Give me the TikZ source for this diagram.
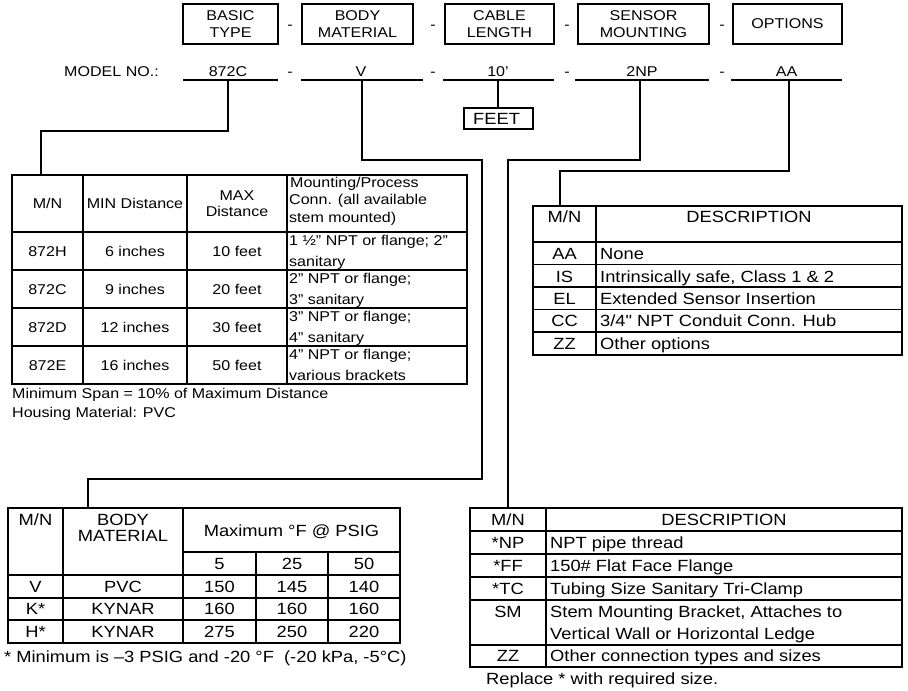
\documentclass[tikz,border=0pt]{standalone}
\usepackage{fontspec}
\setmainfont{Liberation Sans}[FakeStretch=1.13, Ligatures=TeXOff]
\usepackage{tikz}

\newcommand\smsz{\fontsize{14.2}{17}\selectfont}
\newcommand\bgsz{\fontsize{16.2}{18}\selectfont}

\begin{document}
\begin{tikzpicture}[x=1pt, y=-1pt,
        tbl/.style={line width=1.6pt},
        wire/.style={line width=1.3pt},
        hdrbox/.style={draw, line width=1.6pt, minimum height=40pt, inner sep=0pt, align=center, font=\smsz},
        sm/.style={font=\smsz, inner sep=0pt, text height=10.2pt, text depth=0pt},
        bg/.style={font=\bgsz, inner sep=0pt, text height=11.6pt, text depth=0pt}]
        \useasboundingbox (0,0) rectangle (908,691);

        % Coordinates
        \coordinate (T1) at (228,80);
        \coordinate (T2) at (362,80);
        \coordinate (T3) at (498,80);
        \coordinate (T4) at (640,80);
        \coordinate (T5) at (789,80);
        \coordinate (K1) at (41,131);
        \coordinate (K2) at (482,160);
        \coordinate (K3) at (88,479);
        \coordinate (K4) at (508,160);
        \coordinate (K5) at (560,171);
        \coordinate (E1) at (41,175);
        \coordinate (E2) at (88,508);
        \coordinate (E4) at (508,508);
        \coordinate (E5) at (560,206);

        % Header boxes
        \node[hdrbox, minimum width=95pt] (basic) at (230.5,24) {BASIC\\TYPE};
        \node[hdrbox, minimum width=111pt] (bodymat) at (357.5,24) {BODY\\MATERIAL};
        \node[hdrbox, minimum width=109pt] (cable) at (499.5,24) {CABLE\\LENGTH};
        \node[hdrbox, minimum width=131pt] (sensor) at (643.5,24) {SENSOR\\MOUNTING};
        \node[hdrbox, minimum width=109pt] (options) at (787.5,24) {OPTIONS};
        \node[sm] at (290,24) {-};
        \node[sm] at (433,24) {-};
        \node[sm] at (567,24) {-};
        \node[sm] at (722,24) {-};

        % Model number
        \node[sm] (modelno) at (111.5,71) {MODEL NO.:};
        \node[sm] (vtype) at (228,71) {872C};
        \node[sm] (vmat) at (361,71) {V};
        \node[sm] (vlen) at (498,71) {10’};
        \node[sm] (vmount) at (642,71) {2NP};
        \node[sm] (vopt) at (786.5,71) {AA};
        \node[sm] at (290,71) {-};
        \node[sm] at (433,71) {-};
        \node[sm] at (567,71) {-};
        \node[sm] at (722,71) {-};
        \draw[tbl] (183,80) -- (278,80);
        \draw[tbl] (301,80) -- (423,80);
        \draw[tbl] (443,80) -- (554,80);
        \draw[tbl] (575,80) -- (709,80);
        \draw[tbl] (731,80) -- (842,80);

        % FEET box
        \node[draw, line width=1.6pt, minimum width=69pt, minimum height=21pt, inner sep=0pt] (feet) at (498.5,118.5) {};
        \node[bg, anchor=west] at (473,118.5) {FEET};

        % Connectors
        \draw[wire] (T1) |- (K1) -- (E1);
        \draw[wire] (T2) |- (K2) |- (K3) -- (E2);
        \draw[wire] (T3) -- (T3 |- feet.north);
        \draw[wire] (T4) |- (K4) -- (E4);
        \draw[wire] (T5) |- (K5) -- (E5);

        % Basic type table
        \draw[tbl] (12,175) rectangle (467,384);
        \draw[tbl] (83,175) -- (83,384);
        \draw[tbl] (187,175) -- (187,384);
        \draw[tbl] (287,175) -- (287,384);
        \draw[tbl] (12,232) -- (467,232);
        \draw[tbl] (12,270) -- (467,270);
        \draw[tbl] (12,308) -- (467,308);
        \draw[tbl] (12,346) -- (467,346);
        \node[sm] at (47.5,203) {M/N};
        \node[sm] at (135,203) {MIN Distance};
        \node[sm] at (237,195) {MAX};
        \node[sm] at (237,211) {Distance};
        \node[sm, anchor=west] at (290,182) {Mounting/Process};
        \node[sm, anchor=west] at (289,199.5) {Conn. (all available};
        \node[sm, anchor=west] at (289,217) {stem mounted)};
        \node[sm] at (47.5,251) {872H};
        \node[sm] at (135,251) {6 inches};
        \node[sm] at (237,251) {10 feet};
        \node[sm, anchor=west] at (289,240.5) {1 ½” NPT or flange; 2”};
        \node[sm, anchor=west] at (289,261) {sanitary};
        \node[sm] at (47.5,289) {872C};
        \node[sm] at (135,289) {9 inches};
        \node[sm] at (237,289) {20 feet};
        \node[sm, anchor=west] at (289,278.5) {2” NPT or flange;};
        \node[sm, anchor=west] at (289,299) {3” sanitary};
        \node[sm] at (47.5,327) {872D};
        \node[sm] at (135,327) {12 inches};
        \node[sm] at (237,327) {30 feet};
        \node[sm, anchor=west] at (289,316.5) {3” NPT or flange;};
        \node[sm, anchor=west] at (289,337) {4” sanitary};
        \node[sm] at (47.5,365) {872E};
        \node[sm] at (135,365) {16 inches};
        \node[sm] at (237,365) {50 feet};
        \node[sm, anchor=west] at (289,354.5) {4” NPT or flange;};
        \node[sm, anchor=west] at (289,375) {various brackets};
        \node[sm, anchor=west] at (12,393) {Minimum Span = 10\% of Maximum Distance};
        \node[sm, anchor=west] at (12,412) {Housing Material: PVC};

        % Options table
        \draw[tbl] (533,206) rectangle (902,355);
        \draw[tbl] (596,206) -- (596,355);
        \draw[tbl] (533,242) -- (902,242);
        \draw[tbl] (533,264.5) -- (902,264.5);
        \draw[tbl] (533,287) -- (902,287);
        \draw[tbl] (533,309.5) -- (902,309.5);
        \draw[tbl] (533,332) -- (902,332);
        \node[bg] at (564.5,217) {M/N};
        \node[bg] at (749,217) {DESCRIPTION};
        \node[bg] at (564.5,254) {AA};
        \node[bg, anchor=west] at (600,254) {None};
        \node[bg] at (564.5,276.5) {IS};
        \node[bg, anchor=west] at (600,276.5) {Intrinsically safe, Class 1 \& 2};
        \node[bg] at (564.5,299) {EL};
        \node[bg, anchor=west] at (600,299) {Extended Sensor Insertion};
        \node[bg] at (564.5,321) {CC};
        \node[bg, anchor=west] at (600,321) {3/4" NPT Conduit Conn. Hub};
        \node[bg] at (564.5,344) {ZZ};
        \node[bg, anchor=west] at (600,344) {Other options};

        % Body material table
        \draw[tbl] (8,508) rectangle (400,643);
        \draw[tbl] (63,508) -- (63,643);
        \draw[tbl] (183,508) -- (183,643);
        \draw[tbl] (256,552) -- (256,643);
        \draw[tbl] (328,552) -- (328,643);
        \draw[tbl] (183,552) -- (400,552);
        \draw[tbl] (8,575) -- (400,575);
        \draw[tbl] (8,598) -- (400,598);
        \draw[tbl] (8,620) -- (400,620);
        \node[bg] at (35.5,520) {M/N};
        \node[bg] at (123,520) {BODY};
        \node[bg] at (123,535.5) {MATERIAL};
        \node[bg] at (291.5,531) {Maximum °F @ PSIG};
        \node[bg] at (219.5,563.5) {5};
        \node[bg] at (292,563.5) {25};
        \node[bg] at (364,563.5) {50};
        \node[bg] at (35.5,586.5) {V};
        \node[bg] at (123,586.5) {PVC};
        \node[bg] at (219.5,586.5) {150};
        \node[bg] at (292,586.5) {145};
        \node[bg] at (364,586.5) {140};
        \node[bg] at (35.5,609) {K*};
        \node[bg] at (123,609) {KYNAR};
        \node[bg] at (219.5,609) {160};
        \node[bg] at (292,609) {160};
        \node[bg] at (364,609) {160};
        \node[bg] at (35.5,631.5) {H*};
        \node[bg] at (123,631.5) {KYNAR};
        \node[bg] at (219.5,631.5) {275};
        \node[bg] at (292,631.5) {250};
        \node[bg] at (364,631.5) {220};
        \node[bg, anchor=west] at (4,657) {* Minimum is –3 PSIG and -20 °F\ \ (-20 kPa, -5°C)};

        % Sensor mounting table
        \draw[tbl] (470,508) rectangle (902,667);
        \draw[tbl] (546,508) -- (546,667);
        \draw[tbl] (470,531) -- (902,531);
        \draw[tbl] (470,554) -- (902,554);
        \draw[tbl] (470,577) -- (902,577);
        \draw[tbl] (470,600) -- (902,600);
        \draw[tbl] (470,645) -- (902,645);
        \node[bg] at (508,519.5) {M/N};
        \node[bg] at (724,519.5) {DESCRIPTION};
        \node[bg] at (508,542.5) {*NP};
        \node[bg, anchor=west] at (550,542.5) {NPT pipe thread};
        \node[bg] at (508,565.5) {*FF};
        \node[bg, anchor=west] at (550,565.5) {150\# Flat Face Flange};
        \node[bg] at (508,588.5) {*TC};
        \node[bg, anchor=west] at (550,588.5) {Tubing Size Sanitary Tri-Clamp};
        \node[bg] at (508,612) {SM};
        \node[bg, anchor=west] at (550,612) {Stem Mounting Bracket, Attaches to};
        \node[bg, anchor=west] at (550,634) {Vertical Wall or Horizontal Ledge};
        \node[bg] at (508,656) {ZZ};
        \node[bg, anchor=west] at (550,656) {Other connection types and sizes};
        \node[bg, anchor=west] at (486,679) {Replace * with required size.};
    \end{tikzpicture}
\end{document}
